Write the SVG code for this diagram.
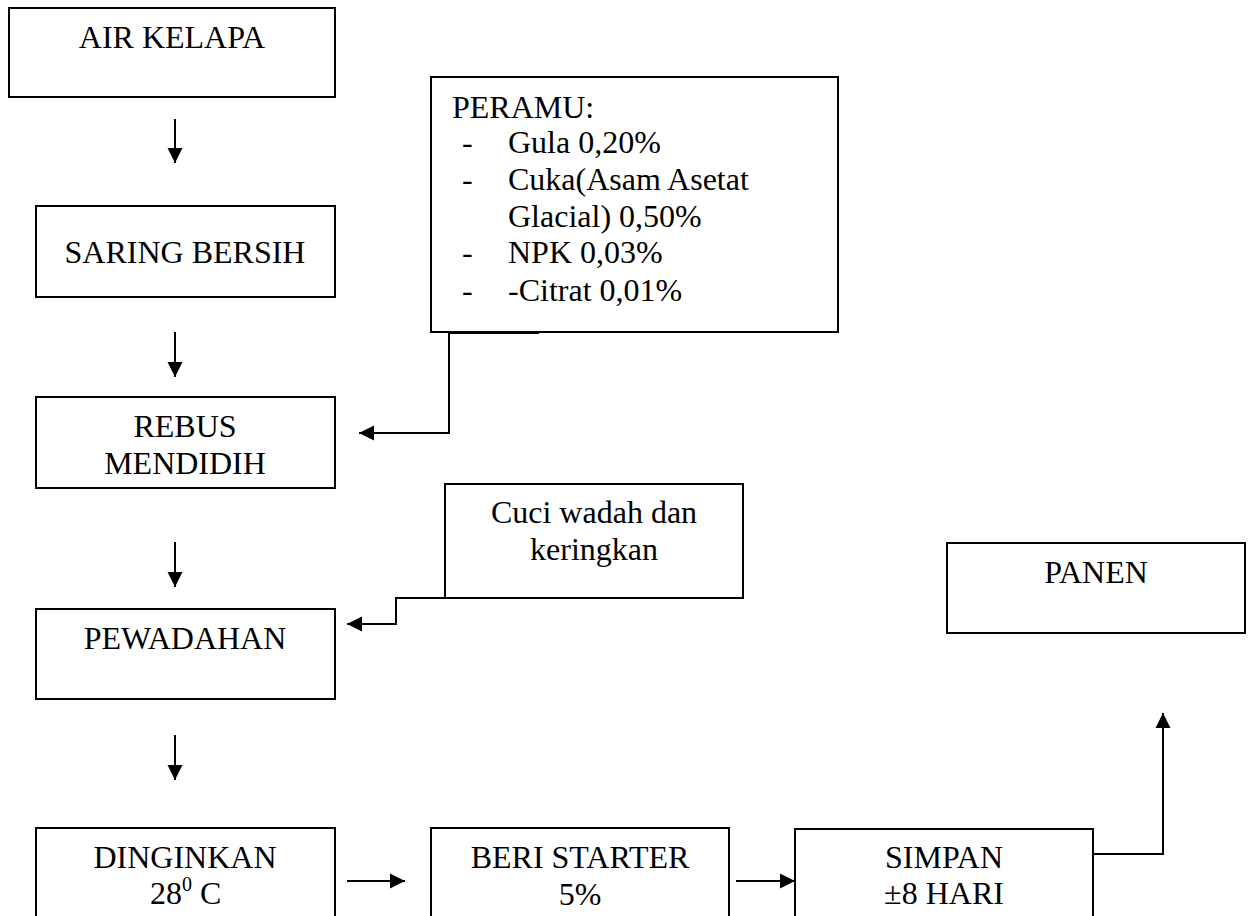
<svg xmlns="http://www.w3.org/2000/svg" width="1253" height="916" viewBox="0 0 1253 916">
<style>
.box{fill:#fff;stroke:#000;stroke-width:2}
.t{font-family:"Liberation Serif","Times New Roman",serif;font-size:32px;fill:#000}
.c{text-anchor:middle}
.ln{fill:none;stroke:#000;stroke-width:2}
</style>
<defs>
<marker id="ah" viewBox="0 0 10 10" refX="10" refY="5" markerWidth="15" markerHeight="16" markerUnits="userSpaceOnUse" orient="auto">
<path d="M0,0 L10,5 L0,10 Z" fill="#000"/>
</marker>
</defs>
<rect width="1253" height="916" fill="#fff"/>
<g id="connectors">
<line class="ln" x1="175" y1="119" x2="175" y2="163" marker-end="url(#ah)"/>
<line class="ln" x1="175" y1="332" x2="175" y2="377" marker-end="url(#ah)"/>
<line class="ln" x1="175" y1="542" x2="175" y2="587" marker-end="url(#ah)"/>
<line class="ln" x1="175" y1="735" x2="175" y2="780" marker-end="url(#ah)"/>
<line class="ln" x1="347" y1="881" x2="405" y2="881" marker-end="url(#ah)"/>
<line class="ln" x1="736" y1="881" x2="795" y2="881" marker-end="url(#ah)"/>
<path class="ln" d="M539,333 H449 V433 H359" marker-end="url(#ah)"/>
<path class="ln" d="M445,598 H396 V624 H347" marker-end="url(#ah)"/>
<path class="ln" d="M1093,854 H1163 V713" marker-end="url(#ah)"/>
</g>
<g id="air-kelapa">
<rect class="box" x="9" y="8" width="326" height="89"/>
<text class="t c" x="172" y="48">AIR KELAPA</text>
</g>
<g id="saring-bersih">
<rect class="box" x="36" y="206" width="299" height="91"/>
<text class="t c" x="185" y="263">SARING BERSIH</text>
</g>
<g id="rebus-mendidih">
<rect class="box" x="36" y="397" width="299" height="91"/>
<text class="t c" x="185" y="437">REBUS</text>
<text class="t c" x="185" y="474">MENDIDIH</text>
</g>
<g id="pewadahan">
<rect class="box" x="36" y="609" width="299" height="90"/>
<text class="t c" x="185" y="649">PEWADAHAN</text>
</g>
<g id="dinginkan">
<rect class="box" x="36" y="828" width="299" height="120"/>
<text class="t c" x="185" y="868">DINGINKAN</text>
<text class="t" x="150" y="904">28<tspan font-size="20" dy="-13">0</tspan><tspan dy="13"> C</tspan></text>
</g>
<g id="beri-starter">
<rect class="box" x="431" y="828" width="298" height="120"/>
<text class="t c" x="580" y="868">BERI STARTER</text>
<text class="t c" x="580" y="905">5%</text>
</g>
<g id="simpan">
<rect class="box" x="795" y="829" width="298" height="120"/>
<text class="t c" x="944" y="868">SIMPAN</text>
<text class="t c" x="944" y="904">±8 HARI</text>
</g>
<g id="panen">
<rect class="box" x="947" y="543" width="298" height="90"/>
<text class="t c" x="1096" y="583">PANEN</text>
</g>
<g id="peramu">
<rect class="box" x="431" y="77" width="407" height="255"/>
<text class="t" x="452" y="118">PERAMU:</text>
<text class="t" x="462" y="153">-</text>
<text class="t" x="508" y="153">Gula 0,20%</text>
<text class="t" x="462" y="190">-</text>
<text class="t" x="508" y="190">Cuka(Asam Asetat</text>
<text class="t" x="508" y="227">Glacial) 0,50%</text>
<text class="t" x="462" y="263">-</text>
<text class="t" x="508" y="263">NPK 0,03%</text>
<text class="t" x="462" y="301">-</text>
<text class="t" x="508" y="301">-Citrat 0,01%</text>
</g>
<g id="cuci-wadah">
<rect class="box" x="445" y="484" width="298" height="114"/>
<text class="t c" x="594" y="523">Cuci wadah dan</text>
<text class="t c" x="594" y="560">keringkan</text>
</g>
</svg>
